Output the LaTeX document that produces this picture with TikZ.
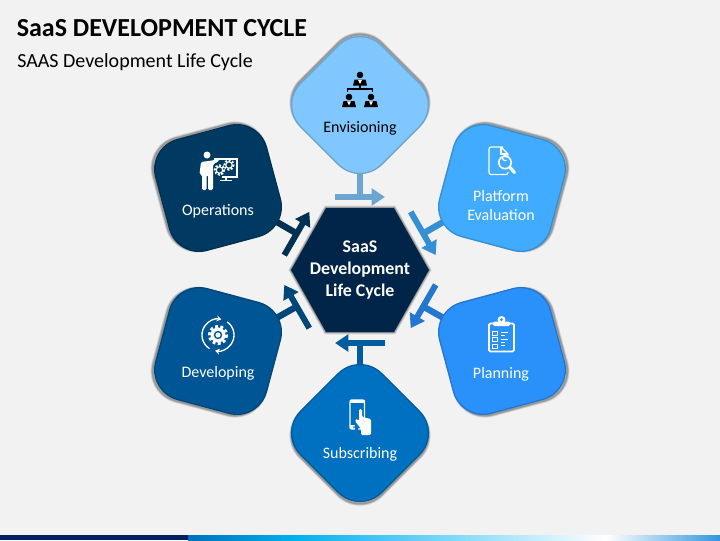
\documentclass[tikz,border=0pt]{standalone}
\usepackage{fontspec}
\setmainfont{Carlito}
\usepackage{tikz}
\usetikzlibrary{arrows.meta}
\usetikzlibrary{backgrounds}
\definecolor{pagegrey}{HTML}{F2F2F2}
\definecolor{hubnavy}{HTML}{002548}
\definecolor{envisfill}{HTML}{81C7FF}
\definecolor{envisedge}{HTML}{6CA6D0}
\definecolor{platfill}{HTML}{40ABFF}
\definecolor{platedge}{HTML}{358FD5}
\definecolor{planfill}{HTML}{2B91FA}
\definecolor{planedge}{HTML}{2377CF}
\definecolor{subfill}{HTML}{0070C0}
\definecolor{subedge}{HTML}{005C9E}
\definecolor{devfill}{HTML}{005595}
\definecolor{devedge}{HTML}{004779}
\definecolor{opsfill}{HTML}{003A63}
\definecolor{opsedge}{HTML}{003152}
\tikzset{softshadow/.style 2 args={preaction={draw=black,draw opacity=0.10,line width=3.4pt,transform canvas={xshift=#1,yshift=#2}},
        preaction={draw=black,draw opacity=0.14,line width=2.4pt,transform canvas={xshift=#1,yshift=#2}},
        preaction={draw=black,draw opacity=0.18,line width=1.4pt,transform canvas={xshift=#1,yshift=#2}}},
    boxshape/.style={minimum size=86pt,inner sep=0pt,rounded corners=23pt,line width=1pt},
    stemline/.style={line width=4.8pt},
    barline/.style={line width=4.5pt,-{Triangle[length=10pt,width=12.5pt]}},
    boxlabel/.style={font=\fontsize{12}{14}\selectfont,inner sep=0.75pt,align=center},
    iconline/.style={draw=white,line width=0.9pt}}

\begin{document}
\begin{tikzpicture}[x=0.75pt,y=0.75pt,yscale=-1,xscale=1]
\useasboundingbox (0,0) rectangle (720,540);

%Shape: Center Hexagon
\draw [fill=hubnavy,draw=none,softshadow={0pt}{0pt}] (291,270) -- (326,208) -- (394,208) -- (429,270) -- (394,332) -- (326,332) -- cycle ;

%Shape: Rotated Boxes
\node (envis) [boxshape,rotate=45,fill=envisfill,draw=envisedge,softshadow={0pt}{1.6pt}] at (360,105) {};
\node (platform) [boxshape,rotate=-15,fill=platfill,draw=platedge,softshadow={1.4pt}{0.8pt}] at (502,188) {};
\node (planning) [boxshape,rotate=15,fill=planfill,draw=planedge,softshadow={1.4pt}{-0.8pt}] at (502,351) {};
\node (subscr) [boxshape,rotate=45,fill=subfill,draw=subedge,softshadow={0pt}{-1.6pt}] at (360,433) {};
\node (devel) [boxshape,rotate=-15,fill=devfill,draw=devedge,softshadow={-1.4pt}{-0.8pt}] at (218,351) {};
\node (operat) [boxshape,rotate=15,fill=opsfill,draw=opsedge,softshadow={-1.4pt}{0.8pt}] at (218,188) {};

%Shape: Arrow Bars
\coordinate (envisbar) at (360,197);
\coordinate (platformbar) at (423.2,233.5);
\coordinate (planningbar) at (423.2,306.5);
\coordinate (subscrbar) at (360,343);
\coordinate (develbar) at (296.8,306.5);
\coordinate (operatbar) at (296.8,233.5);
\draw [barline,draw=envisedge,fill=envisedge] (335,197) -- (385,197);
\draw [barline,draw=platedge,fill=platedge] (410.7,211.85) -- (435.7,255.15);
\draw [barline,draw=planedge,fill=planedge] (435.7,284.85) -- (410.7,328.15);
\draw [barline,draw=subedge,fill=subedge] (385,343) -- (335,343);
\draw [barline,draw=devedge,fill=devedge] (309.3,328.15) -- (284.3,284.85);
\draw [barline,draw=opsedge,fill=opsedge] (284.3,255.15) -- (309.3,211.85);

%Shape: Stems
\begin{scope}[on background layer]
\fill [pagegrey] (0,0) rectangle (720,540);
\draw [stemline,envisedge] (envis.center) -- (envisbar);
\draw [stemline,platedge] (platform.center) -- (platformbar);
\draw [stemline,planedge] (planning.center) -- (planningbar);
\draw [stemline,subedge] (subscr.center) -- (subscrbar);
\draw [stemline,devedge] (devel.center) -- (develbar);
\draw [stemline,opsedge] (operat.center) -- (operatbar);
\end{scope}

%Shape: Bottom Strip
\fill [color={rgb,255:red,0;green,32;blue,96}] (0,535) rectangle (188,540);
\shade [left color=subfill,right color={rgb,255:red,0;green,176;blue,240}] (188,535) rectangle (294,540);
\shade [left color={rgb,255:red,0;green,176;blue,240},right color=white] (294,535) rectangle (606,540);
\shade [left color=white,right color={rgb,255:red,50;green,150;blue,220}] (606,535) rectangle (720,540);

%Icon: Envisioning
\fill (360,75) circle (3.3);
\fill (349,97) circle (3.3);
\fill (371,97) circle (3.3);
\fill (353,85.5) -- (354.5,79.5) -- (365.5,79.5) -- (367,85.5) -- cycle;
\fill (342,107) -- (343.5,101) -- (354.5,101) -- (356,107) -- cycle;
\fill (364,107) -- (365.5,101) -- (376.5,101) -- (378,107) -- cycle;
\draw [line width=1pt] (347.5,91.5) -- (347.5,89) -- (372.5,89) -- (372.5,91.5) (360,85) -- (360,89);
\fill [white] (358,79.8) -- (362,79.8) -- (360,84) -- cycle;
\fill [white] (347,101.3) -- (351,101.3) -- (349,105.5) -- cycle;
\fill [white] (369,101.3) -- (373,101.3) -- (371,105.5) -- cycle;

%Icon: Platform
\draw [iconline,rounded corners=1.5pt] (503,147) -- (489,147) -- (489,174.5) -- (508,174.5) -- (508,172);
\draw [iconline] (501,147) -- (508,154) -- (508,156.5);
\draw [iconline] (501,147) -- (501,154) -- (508,154);
\draw [iconline,line width=1.2pt] (505,162.5) circle (6.2);
\draw [draw=white,line width=2.4pt,line cap=round] (510,167.5) -- (514.5,172.5);
\draw [iconline] (506.5,160.3) arc (60:300:2.6);

%Icon: Planning
\draw [iconline,line width=1.3pt,rounded corners=1pt] (489,323.5) rectangle (514,351.5);
\fill [white,rounded corners=1pt] (493,321.5) rectangle (510,326);
\fill [white] (501.5,320) circle (4);
\fill [planfill] (501.5,319.5) circle (1.5);
\draw [iconline,line width=0.7pt] (492.5,331) rectangle (497,335) (492.5,337.5) rectangle (497,341.5) (492.5,344) rectangle (497,348);
\draw [iconline,line width=0.7pt] (501,332.5) -- (508,332.5) (501,335.5) -- (505,335.5) (501,339) -- (508,339) (501,342) -- (505,342) (501,345.5) -- (505,345.5);

%Icon: Subscribing
\draw [iconline,line width=1.1pt,rounded corners=1.5pt] (350,400) rectangle (364.5,429);
\fill [white] (350,400) rectangle (364.5,403);
\fill [white] (350,425) rectangle (358,429);
\fill [subfill] (354,427) circle (1);
\fill [subfill] (355,436) -- (355,426) -- (353,420) -- (358,417) -- (358,435) -- cycle;
\fill [white,rounded corners=1pt] (359,409) -- (362,409) -- (362,417) -- (371,419) -- (371,435) -- (361,435) -- (361,429) -- (355,421) -- (356,418.5) -- (359,421) -- cycle;

%Icon: Developing
\fill [white] (218,335) circle (7.5);
\draw [draw=white,line width=2.2pt,dash pattern=on 2.2pt off 1.8pt] (218,335) circle (8.6);
\fill [devfill] (218,335) circle (4.2);
\fill [white] (218,335) circle (2.6);
\draw [iconline,line width=1pt,-{Stealth[length=3.5pt,width=4.5pt]}] (209.5,348.6) arc (122:282:16);
\draw [iconline,line width=1pt,-{Stealth[length=3.5pt,width=4.5pt]}] (227.2,321.9) arc (-55:101:16);

%Icon: Operations
\fill [white] (207,155) circle (3.5);
\fill [white,rounded corners=1pt] (201,162) -- (212,160.5) -- (219,159) -- (219,161) -- (213,164.5) -- (213,190) -- (208,190) -- (208,175) -- (206.5,175) -- (206.5,190) -- (202,190) -- (202,175) -- (199.5,174) -- cycle;
\draw [iconline] (214,159) -- (237,159) -- (237,177) -- (222,177);
\draw [iconline] (226,177) -- (226,180) (220,180.5) -- (232,180.5);
\draw [draw=white,line width=1.6pt,dash pattern=on 1.4pt off 1.2pt] (219.5,170) circle (4.6);
\draw [draw=white,line width=0.8pt] (219.5,170) circle (3.2);
\draw [draw=white,line width=1.6pt,dash pattern=on 1.4pt off 1.2pt] (229,165) circle (4.6);
\draw [draw=white,line width=0.8pt] (229,165) circle (3.2);

% Text Node
\draw (15.5,18) node (titlelabel) [anchor=north west][inner sep=0.75pt]  [font=\fontsize{19.5}{23}\selectfont\bfseries]  {SaaS DEVELOPMENT CYCLE};
% Text Node
\draw (16,52) node (subtitlelabel) [anchor=north west][inner sep=0.75pt]  [font=\fontsize{15}{18}\selectfont]  {SAAS Development Life Cycle};
% Text Node
\draw (360,270) node (hublabel) [inner sep=0.75pt,align=center,white]  [font=\fontsize{13.4}{16.3}\selectfont\bfseries]  {SaaS\\Development\\Life Cycle};
% Text Node
\draw (360,128.5) node (envislabel) [boxlabel]  {Envisioning};
% Text Node
\draw (501,205.5) node (platformlabel) [boxlabel,white,font=\fontsize{12}{14.2}\selectfont]  {Platform\\Evaluation};
% Text Node
\draw (501,374.5) node (planninglabel) [boxlabel,white]  {Planning};
% Text Node
\draw (360,454.5) node (subscrlabel) [boxlabel,white]  {Subscribing};
% Text Node
\draw (218,373.5) node (devellabel) [boxlabel,white]  {Developing};
% Text Node
\draw (218,211.5) node (operatlabel) [boxlabel,white]  {Operations};

\end{tikzpicture}
\end{document}
